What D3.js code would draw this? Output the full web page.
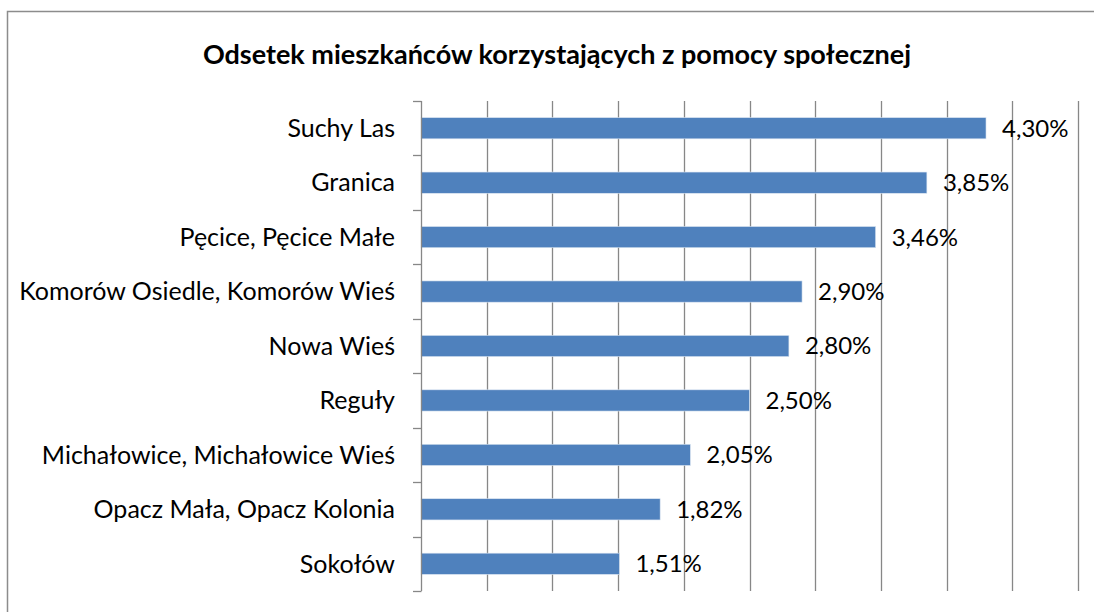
<!DOCTYPE html>
<html>
<head>
<meta charset="utf-8">
<script src="https://cdn.jsdelivr.net/npm/d3@7"></script>
<style>
  body { margin: 0; background: #fff; }
  text { font-family: Lato, "Open Sans", sans-serif; }
</style>
</head>
<body>
<div id="chart"></div>
<script>
const title = "Odsetek mieszkańców korzystających z pomocy społecznej";
const categories = ["Suchy Las", "Granica", "Pęcice, Pęcice Małe", "Komorów Osiedle, Komorów Wieś",
    "Nowa Wieś", "Reguły", "Michałowice, Michałowice Wieś", "Opacz Mała, Opacz Kolonia", "Sokołów"];
const values = [4.30, 3.85, 3.46, 2.90, 2.80, 2.50, 2.05, 1.82, 1.51];
const gridTicks = [0, 0.5, 1, 1.5, 2, 2.5, 3, 3.5, 4, 4.5, 5];

const width = 1094, height = 612;
const margin = { top: 101, right: 16, bottom: 21, left: 421 };
const internal_width = width - margin.left - margin.right;
const internal_height = height - margin.top - margin.bottom;

const root = d3.select("#chart")
    .append("svg")
    .attr("width", width)
    .attr("height", height);

// outer frame (runs off right and bottom like the source)
root.append("rect")
    .attr("x", 7.5).attr("y", 11.5)
    .attr("width", width + 10).attr("height", height + 10)
    .attr("fill", "none")
    .attr("stroke", "#8c8c8c")
    .attr("stroke-width", 1.5);

root.append("text")
    .attr("x", 557).attr("y", 64)
    .attr("text-anchor", "middle")
    .attr("font-size", "27px")
    .attr("font-weight", "bold")
    .text(title);

const svg = root.append("g")
    .attr("transform", `translate(${margin.left}, ${margin.top})`);

const x = d3.scaleLinear()
    .domain([0, 5])
    .range([0, internal_width]);
const y = d3.scaleBand()
    .domain(categories)
    .range([0, internal_height])
    .paddingInner(0.61)
    .paddingOuter(0.305);

// vertical gridlines
svg.append("g")
    .attr("class", "grid")
    .selectAll("line")
    .data(gridTicks.slice(1))
    .enter()
    .append("line")
    .attr("x1", d => Math.round(x(d)) + 0.5)
    .attr("x2", d => Math.round(x(d)) + 0.5)
    .attr("y1", 0)
    .attr("y2", internal_height)
    .attr("stroke", "#878787")
    .attr("stroke-width", 1.3);

// bars
svg.append("g")
    .selectAll("rect")
    .data(values)
    .enter()
    .append("rect")
    .attr("x", 0)
    .attr("y", (d, i) => y(categories[i]))
    .attr("width", d => x(d))
    .attr("height", y.bandwidth())
    .attr("fill", "#4f81bd")
    .attr("stroke", "#dce6f2")
    .attr("stroke-width", 0.6);

// category axis: ticks at band boundaries
const step = y.step();
const boundaries = d3.range(categories.length + 1).map(i => i * step);
const axis = svg.append("g").attr("class", "y-axis");
axis.append("line")
    .attr("x1", 0.5).attr("x2", 0.5)
    .attr("y1", 0).attr("y2", internal_height)
    .attr("stroke", "#878787")
    .attr("stroke-width", 1.3);
axis.selectAll(".tick")
    .data(boundaries)
    .enter()
    .append("line")
    .attr("x1", -8).attr("x2", 0.5)
    .attr("y1", d => Math.round(d) + 0.5)
    .attr("y2", d => Math.round(d) + 0.5)
    .attr("stroke", "#878787")
    .attr("stroke-width", 1.3);
axis.selectAll("text")
    .data(categories)
    .enter()
    .append("text")
    .attr("x", -26)
    .attr("y", d => y(d) + y.bandwidth() / 2)
    .attr("dy", "0.35em")
    .attr("text-anchor", "end")
    .attr("font-size", "25px")
    .attr("fill", "#000")
    .text(d => d);

// value labels
svg.append("g")
    .selectAll("text")
    .data(values)
    .enter()
    .append("text")
    .attr("x", d => x(d) + 16)
    .attr("y", (d, i) => y(categories[i]) + y.bandwidth() / 2)
    .attr("dy", "0.35em")
    .attr("font-size", "24px")
    .attr("fill", "#000")
    .text(d => d.toFixed(2).replace(".", ",") + "%");
</script>
</body>
</html>
